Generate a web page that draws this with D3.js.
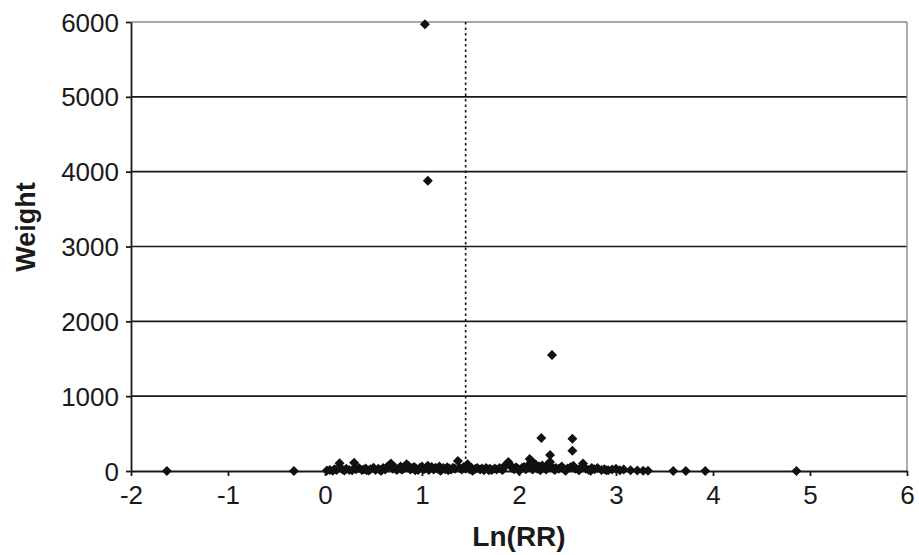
<!DOCTYPE html>
<html>
<head>
<meta charset="utf-8">
<script src="https://cdn.jsdelivr.net/npm/d3@7"></script>
<style>
  body { margin: 0; background: #fff; }
  svg { display: block; font-family: "Liberation Sans", Arial, sans-serif; }
</style>
</head>
<body>
<div id="chart"></div>
<script>
// axis ticks
const xTicks = [-2, -1, 0, 1, 2, 3, 4, 5, 6];
const yTicks = [0, 1000, 2000, 3000, 4000, 5000, 6000];

// dotted reference line (pooled ln RR)
const meanLnRR = 1.45;

// isolated studies
const outlierX = [-1.63, -0.32, 1.03, 1.06, 2.34, 2.23, 2.55, 2.55, 2.32, 3.59, 3.72, 3.92, 4.86];
const outlierW = [0, 0, 5970, 3880, 1550, 440, 430, 270, 215, 0, 0, 0, 0];

// dense cluster near the axis
const clusterX = [
  0.02, 0.05, 0.08, 0.10, 0.12, 0.15, 0.18, 0.20, 0.22, 0.25,
  0.28, 0.30, 0.32, 0.35, 0.38, 0.40, 0.42, 0.45, 0.47, 0.50,
  0.52, 0.55, 0.57, 0.60, 0.62, 0.64, 0.66, 0.68, 0.70, 0.72,
  0.74, 0.76, 0.78, 0.80, 0.82, 0.84, 0.86, 0.88, 0.90, 0.92,
  0.94, 0.96, 0.98, 1.00, 1.02, 1.04, 1.06, 1.08, 1.10, 1.12,
  1.14, 1.16, 1.18, 1.20, 1.22, 1.24, 1.26, 1.28, 1.30, 1.32,
  1.34, 1.37, 1.39, 1.41, 1.43, 1.45, 1.47, 1.49, 1.51, 1.53,
  1.55, 1.57, 1.60, 1.62, 1.64, 1.66, 1.68, 1.70, 1.72, 1.75,
  1.77, 1.80, 1.82, 1.85, 1.87, 1.89, 1.91, 1.93, 1.95, 1.97,
  1.99, 2.01, 2.03, 2.05, 2.07, 2.09, 2.11, 2.13, 2.15, 2.17,
  2.19, 2.21, 2.24, 2.26, 2.28, 2.30, 2.32, 2.34, 2.36, 2.38,
  2.41, 2.44, 2.47, 2.50, 2.53, 2.56, 2.58, 2.61, 2.64, 2.66,
  2.69, 2.72, 2.75, 2.78, 2.81, 2.85, 2.88, 2.92, 2.96, 3.00,
  3.04, 3.08, 3.15, 3.22, 3.28, 3.33,
  0.43, 0.58, 0.79, 0.93, 1.07, 1.19, 1.27, 1.52, 1.69, 1.83,
  2.00, 2.14, 2.22, 2.37, 2.48, 2.62, 2.74, 2.90
];
const clusterW = [
  8, 15, 5, 25, 12, 105, 20, 8, 30, 15,
  10, 110, 25, 40, 12, 20, 35, 8, 25, 45,
  15, 30, 10, 40, 20, 55, 75, 100, 30, 50,
  15, 35, 60, 25, 45, 90, 70, 20, 40, 55,
  30, 15, 45, 60, 25, 40, 70, 35, 55, 20,
  45, 30, 60, 15, 40, 25, 50, 35, 20, 45,
  30, 135, 40, 20, 55, 30, 90, 25, 45, 15,
  30, 40, 20, 35, 10, 40, 25, 30, 15, 35,
  20, 40, 25, 60, 90, 120, 80, 40, 25, 50,
  30, 15, 40, 55, 25, 70, 160, 130, 45, 90,
  30, 60, 75, 40, 20, 95, 120, 50, 25, 40,
  30, 60, 20, 35, 50, 70, 30, 20, 45, 100,
  30, 15, 40, 25, 40, 15, 25, 10, 20, 30,
  10, 20, 10, 8, 5, 5,
  10, 5, 20, 10, 15, 5, 10, 5, 10, 15,
  5, 20, 10, 15, 5, 10, 5, 10
];

const outerWidth = 919;
const outerHeight = 555;
const margin = { top: 22, right: 12, bottom: 84, left: 131 };
const width = outerWidth - margin.left - margin.right;
const height = outerHeight - margin.top - margin.bottom;

const points = clusterX.map((x, i) => ({ x, w: clusterW[i] }))
    .concat(outlierX.map((x, i) => ({ x, w: outlierW[i] })));

const svg = d3.select('#chart').append('svg')
    .attr('width', outerWidth)
    .attr('height', outerHeight);
const g = svg.append('g')
    .attr('transform', `translate(${margin.left},${margin.top})`);

const x = d3.scaleLinear().domain([-2, 6]).range([0, width]);
const y = d3.scaleLinear().domain([0, 6000]).range([height, 0]);

// gridlines
g.append('g')
    .selectAll('line')
    .data(yTicks.filter((d) => d > 0))
    .join('line')
    .attr('x1', 0)
    .attr('x2', width)
    .attr('y1', (d) => y(d))
    .attr('y2', (d) => y(d))
    .attr('stroke', (d) => (d === 6000 ? '#8a8a8a' : '#1a1a1a'))
    .attr('stroke-width', 1.6);

// right border
g.append('line')
    .attr('x1', width).attr('x2', width)
    .attr('y1', 0).attr('y2', height)
    .attr('stroke', '#8a8a8a')
    .attr('stroke-width', 1.4);

// dotted line
g.append('line')
    .attr('x1', x(meanLnRR)).attr('x2', x(meanLnRR))
    .attr('y1', 0).attr('y2', height)
    .attr('stroke', '#111')
    .attr('stroke-width', 1.6)
    .attr('stroke-dasharray', '2.5,3');

const xAxis = d3.axisBottom(x).tickValues(xTicks).tickSize(5).tickSizeOuter(0)
    .tickFormat(d3.format('d'));
const yAxis = d3.axisLeft(y).tickValues(yTicks).tickSize(5).tickSizeOuter(0)
    .tickFormat(d3.format('d'));

const xAxisG = g.append('g')
    .attr('transform', `translate(0,${height})`)
    .call(xAxis);
const yAxisG = g.append('g').call(yAxis);

[xAxisG, yAxisG].forEach((a) => {
    a.selectAll('path, line').attr('stroke', '#1a1a1a').attr('stroke-width', 1.8);
    a.selectAll('text')
        .attr('fill', '#1a1a1a')
        .style('font-size', '26px');
});
xAxisG.selectAll('text').attr('dy', '0.95em').text((d) => (d < 0 ? `-${-d}` : d));
yAxisG.selectAll('text').attr('x', -12).attr('dy', '0.35em');

// diamond markers
const diamond = {
    draw(ctx, size) {
        const r = Math.sqrt(size / 2);
        ctx.moveTo(0, -r);
        ctx.lineTo(r, 0);
        ctx.lineTo(0, r);
        ctx.lineTo(-r, 0);
        ctx.closePath();
    },
};
g.append('g')
    .selectAll('path')
    .data(points)
    .join('path')
    .attr('transform', (d) => `translate(${x(d.x)},${y(d.w)})`)
    .attr('d', d3.symbol(diamond, 50))
    .attr('fill', '#111');

// axis titles
svg.append('text')
    .attr('x', margin.left + x(2))
    .attr('y', 546)
    .attr('text-anchor', 'middle')
    .style('font-size', '28px')
    .style('font-weight', 'bold')
    .attr('fill', '#1a1a1a')
    .text('Ln(RR)');

svg.append('text')
    .attr('transform', `translate(35,227) rotate(-90)`)
    .attr('text-anchor', 'middle')
    .style('font-size', '27px')
    .style('font-weight', 'bold')
    .attr('fill', '#1a1a1a')
    .text('Weight');
</script>
</body>
</html>
